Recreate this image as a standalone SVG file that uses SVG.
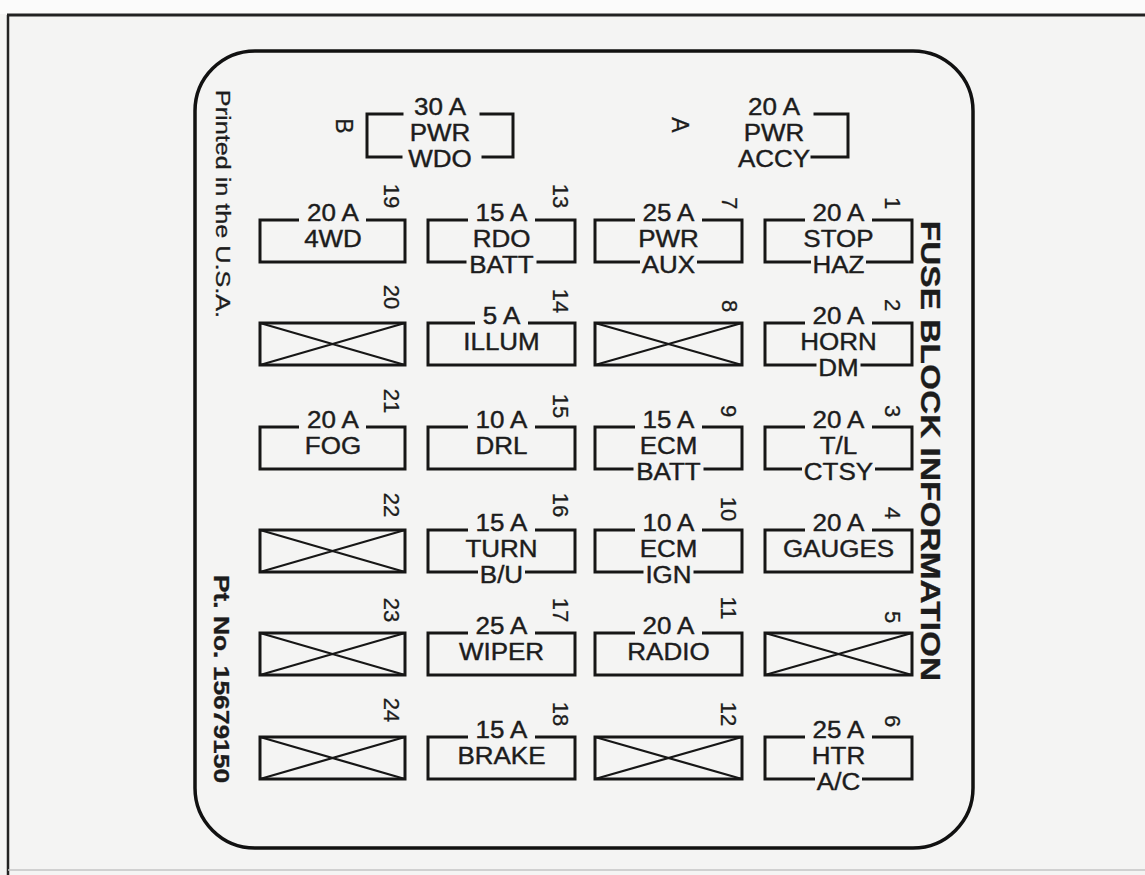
<svg xmlns="http://www.w3.org/2000/svg" width="1145" height="875" viewBox="0 0 1145 875">
<style>
.bx{fill:none;stroke:#161616;stroke-width:3;stroke-linecap:square}
.xl{fill:none;stroke:#161616;stroke-width:2.2}
.t{font-family:"Liberation Sans",Arial,Helvetica,sans-serif;font-size:23px;fill:#1c1c1c;stroke:#1c1c1c;stroke-width:0.4;text-anchor:middle;transform-box:fill-box;transform-origin:center;transform:scaleX(1.13)}
.n{font-family:"Liberation Sans",Arial,Helvetica,sans-serif;font-size:22px;fill:#1c1c1c;stroke:#1c1c1c;stroke-width:0.3;text-anchor:middle;dominant-baseline:central}
.r{font-family:"Liberation Sans",Arial,Helvetica,sans-serif;fill:#1c1c1c;stroke:#1c1c1c;stroke-width:0.3;text-anchor:middle;dominant-baseline:central}
</style>
<rect x="0" y="0" width="1145" height="875" fill="#f4f4f3"/>
<rect x="0" y="0" width="1145" height="14" fill="#fbfbfb"/>
<g id="frame">
<path d="M7 15 H1145" stroke="#222" stroke-width="3" fill="none"/>
<path d="M8 15 V875" stroke="#222" stroke-width="2.5" fill="none"/>
<path d="M8 870 H1145" stroke="#c4c4c4" stroke-width="1.5" fill="none"/>
<rect x="195" y="51" width="778" height="797" rx="60" ry="60" fill="none" stroke="#111" stroke-width="3.5"/>
</g>
<g id="side-texts">
<text class="r" font-size="21" transform="translate(223 204) rotate(90) scale(1.2 1)">Printed in the U.S.A.</text>
<text class="r" font-size="22" font-weight="bold" transform="translate(222 679) rotate(90) scale(1.2 1)">Pt. No. 15679150</text>
<text class="r" font-size="27" font-weight="bold" transform="translate(931 451) rotate(90) scale(1.24 1)">FUSE BLOCK INFORMATION</text>
</g>
<g id="fuse-B">
<text class="r" font-size="23" transform="translate(344 126) rotate(90)">B</text>
<path class="bx" d="M402 114 H367 V157 H401 M481 114 H513 V157 H483"/>
<text class="t" x="440" y="115">30 A</text>
<text class="t" x="440" y="141">PWR</text>
<text class="t" x="440" y="167">WDO</text>
</g>
<g id="fuse-A">
<text class="r" font-size="23" transform="translate(680 125) rotate(90)">A</text>
<path class="bx" d="M815 114 H848 V157 H812"/>
<text class="t" x="774" y="115">20 A</text>
<text class="t" x="774" y="141">PWR</text>
<text class="t" x="774" y="167">ACCY</text>
</g>
<g id="fuse-19">
<path class="bx" d="M297.5 220 H260 V262 H405 V220 H367.5"/>
<text class="t" x="333" y="221">20 A</text><text class="t" x="333" y="247">4WD</text>
<text class="n" transform="rotate(90 391 196)" x="391" y="196">19</text>
</g>
<g id="fuse-13">
<path class="bx" d="M466.5 220 H428 V262 H465 M538 262 H575 V220 H536.5"/>
<text class="t" x="501.5" y="221">15 A</text><text class="t" x="501.5" y="247">RDO</text><text class="t" x="501.5" y="273">BATT</text>
<text class="n" transform="rotate(90 560 196)" x="560" y="196">13</text>
</g>
<g id="fuse-7">
<path class="bx" d="M633.5 220 H595 V262 H638.5 M698.5 262 H742 V220 H703.5"/>
<text class="t" x="668.5" y="221">25 A</text><text class="t" x="668.5" y="247">PWR</text><text class="t" x="668.5" y="273">AUX</text>
<text class="n" transform="rotate(90 729 203)" x="729" y="203">7</text>
</g>
<g id="fuse-1">
<path class="bx" d="M803.5 220 H765 V262 H809.5 M867.5 262 H912 V220 H873.5"/>
<text class="t" x="838.5" y="221">20 A</text><text class="t" x="838.5" y="247">STOP</text><text class="t" x="838.5" y="273">HAZ</text>
<text class="n" transform="rotate(90 892 203)" x="892" y="203">1</text>
</g>
<g id="fuse-20">
<rect class="bx" x="260" y="323" width="145" height="42"/><path class="xl" d="M260 323 L405 365 M260 365 L405 323"/>
<text class="n" transform="rotate(90 391 297)" x="391" y="297">20</text>
</g>
<g id="fuse-14">
<path class="bx" d="M473.5 323 H428 V365 H575 V323 H529.5"/>
<text class="t" x="501.5" y="324">5 A</text><text class="t" x="501.5" y="350">ILLUM</text>
<text class="n" transform="rotate(90 560 301)" x="560" y="301">14</text>
</g>
<g id="fuse-8">
<rect class="bx" x="595" y="323" width="147" height="42"/><path class="xl" d="M595 323 L742 365 M595 365 L742 323"/>
<text class="n" transform="rotate(90 729 306)" x="729" y="306">8</text>
</g>
<g id="fuse-2">
<path class="bx" d="M803.5 323 H765 V365 H815 M862 365 H912 V323 H873.5"/>
<text class="t" x="838.5" y="324">20 A</text><text class="t" x="838.5" y="350">HORN</text><text class="t" x="838.5" y="376">DM</text>
<text class="n" transform="rotate(90 892 305)" x="892" y="305">2</text>
</g>
<g id="fuse-21">
<path class="bx" d="M297.5 427 H260 V469 H405 V427 H367.5"/>
<text class="t" x="333" y="428">20 A</text><text class="t" x="333" y="454">FOG</text>
<text class="n" transform="rotate(90 391 401)" x="391" y="401">21</text>
</g>
<g id="fuse-15">
<path class="bx" d="M466.5 427 H428 V469 H575 V427 H536.5"/>
<text class="t" x="501.5" y="428">10 A</text><text class="t" x="501.5" y="454">DRL</text>
<text class="n" transform="rotate(90 560 406)" x="560" y="406">15</text>
</g>
<g id="fuse-9">
<path class="bx" d="M633.5 427 H595 V469 H632 M705 469 H742 V427 H703.5"/>
<text class="t" x="668.5" y="428">15 A</text><text class="t" x="668.5" y="454">ECM</text><text class="t" x="668.5" y="480">BATT</text>
<text class="n" transform="rotate(90 728 411)" x="728" y="411">9</text>
</g>
<g id="fuse-3">
<path class="bx" d="M803.5 427 H765 V469 H800.5 M876.5 469 H912 V427 H873.5"/>
<text class="t" x="838.5" y="428">20 A</text><text class="t" x="838.5" y="454">T/L</text><text class="t" x="838.5" y="480">CTSY</text>
<text class="n" transform="rotate(90 892 411)" x="892" y="411">3</text>
</g>
<g id="fuse-22">
<rect class="bx" x="260" y="530" width="145" height="42"/><path class="xl" d="M260 530 L405 572 M260 572 L405 530"/>
<text class="n" transform="rotate(90 391 505)" x="391" y="505">22</text>
</g>
<g id="fuse-16">
<path class="bx" d="M466.5 530 H428 V572 H476.5 M526.5 572 H575 V530 H536.5"/>
<text class="t" x="501.5" y="531">15 A</text><text class="t" x="501.5" y="557">TURN</text><text class="t" x="501.5" y="583">B/U</text>
<text class="n" transform="rotate(90 560 505)" x="560" y="505">16</text>
</g>
<g id="fuse-10">
<path class="bx" d="M633.5 530 H595 V572 H642 M695 572 H742 V530 H703.5"/>
<text class="t" x="668.5" y="531">10 A</text><text class="t" x="668.5" y="557">ECM</text><text class="t" x="668.5" y="583">IGN</text>
<text class="n" transform="rotate(90 728 509)" x="728" y="509">10</text>
</g>
<g id="fuse-4">
<path class="bx" d="M803.5 530 H765 V572 H912 V530 H873.5"/>
<text class="t" x="838.5" y="531">20 A</text><text class="t" x="838.5" y="557">GAUGES</text>
<text class="n" transform="rotate(90 892 513)" x="892" y="513">4</text>
</g>
<g id="fuse-23">
<rect class="bx" x="260" y="633" width="145" height="42"/><path class="xl" d="M260 633 L405 675 M260 675 L405 633"/>
<text class="n" transform="rotate(90 391 610)" x="391" y="610">23</text>
</g>
<g id="fuse-17">
<path class="bx" d="M466.5 633 H428 V675 H575 V633 H536.5"/>
<text class="t" x="501.5" y="634">25 A</text><text class="t" x="501.5" y="660">WIPER</text>
<text class="n" transform="rotate(90 560 610)" x="560" y="610">17</text>
</g>
<g id="fuse-11">
<path class="bx" d="M633.5 633 H595 V675 H742 V633 H703.5"/>
<text class="t" x="668.5" y="634">20 A</text><text class="t" x="668.5" y="660">RADIO</text>
<text class="n" transform="rotate(90 728 608)" x="728" y="608">11</text>
</g>
<g id="fuse-5">
<rect class="bx" x="765" y="633" width="147" height="42"/><path class="xl" d="M765 633 L912 675 M765 675 L912 633"/>
<text class="n" transform="rotate(90 892 617)" x="892" y="617">5</text>
</g>
<g id="fuse-24">
<rect class="bx" x="260" y="737" width="145" height="42"/><path class="xl" d="M260 737 L405 779 M260 779 L405 737"/>
<text class="n" transform="rotate(90 391 710)" x="391" y="710">24</text>
</g>
<g id="fuse-18">
<path class="bx" d="M466.5 737 H428 V779 H575 V737 H536.5"/>
<text class="t" x="501.5" y="738">15 A</text><text class="t" x="501.5" y="764">BRAKE</text>
<text class="n" transform="rotate(90 560 714)" x="560" y="714">18</text>
</g>
<g id="fuse-12">
<rect class="bx" x="595" y="737" width="147" height="42"/><path class="xl" d="M595 737 L742 779 M595 779 L742 737"/>
<text class="n" transform="rotate(90 728 714)" x="728" y="714">12</text>
</g>
<g id="fuse-6">
<path class="bx" d="M803.5 737 H765 V779 H813.5 M863.5 779 H912 V737 H873.5"/>
<text class="t" x="838.5" y="738">25 A</text><text class="t" x="838.5" y="764">HTR</text><text class="t" x="838.5" y="790">A/C</text>
<text class="n" transform="rotate(90 892 721)" x="892" y="721">6</text>
</g>
</svg>
